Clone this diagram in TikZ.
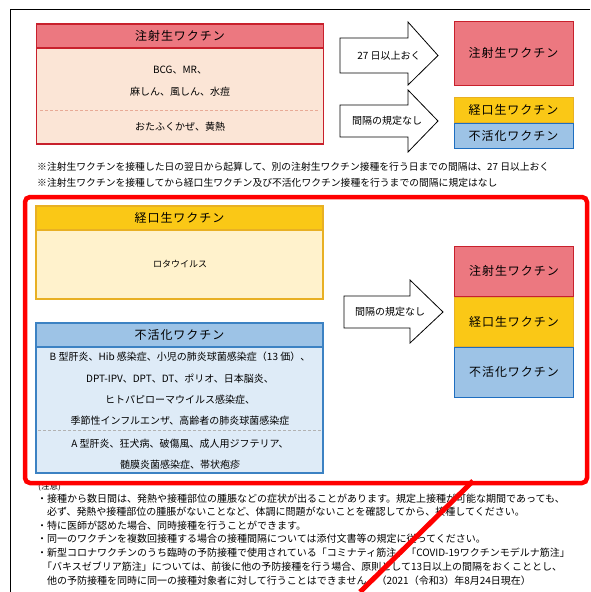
\documentclass[tikz,border=0pt]{standalone}
\usepackage{fontspec}
\setmainfont{Noto Sans CJK JP}
\newfontfamily\headfont[LetterSpace=8]{Noto Sans CJK JP}
\usetikzlibrary{positioning}
\definecolor{redhead}{RGB}{236,120,128}
\definecolor{redline}{RGB}{200,32,44}
\definecolor{redbody}{RGB}{251,229,214}
\definecolor{reddash}{RGB}{232,170,150}
\definecolor{yelhead}{RGB}{250,200,22}
\definecolor{yelline}{RGB}{232,176,36}
\definecolor{yelbody}{RGB}{255,242,204}
\definecolor{bluhead}{RGB}{157,195,230}
\definecolor{bluline}{RGB}{60,130,195}
\definecolor{bludark}{RGB}{30,110,192}
\definecolor{blubody}{RGB}{222,235,247}
\definecolor{markred}{RGB}{255,0,0}
\tikzstyle{head} = [rectangle, minimum width=287pt, minimum height=24pt, inner sep=0pt, text centered, line width=1.2pt, font=\headfont\fontsize{12}{12}\selectfont]
\tikzstyle{body} = [rectangle, minimum width=287pt, inner sep=0pt, line width=1.2pt]
\tikzstyle{item} = [inner sep=0pt, font=\fontsize{10}{10}\selectfont]
\tikzstyle{kind} = [rectangle, minimum width=119pt, inner sep=0pt, text centered, line width=1pt, font=\headfont\fontsize{12}{12}\selectfont]
\tikzstyle{blockarrow} = [draw=black, fill=white, line width=0.8pt, line join=miter]
\tikzstyle{arrowtext} = [inner sep=0pt, font=\fontsize{10}{10}\selectfont]
\tikzstyle{note} = [anchor=west, inner sep=0pt, font=\fontsize{9.8}{10}\selectfont]
\tikzstyle{splitline} = [densely dashed, line width=0.8pt]

\begin{document}
\begin{tikzpicture}[x=1pt, y=-1pt]
	\useasboundingbox (0,0) rectangle (590,592);
	\draw [line width=0.9pt] (590,9) -- (10,9) -- (10,592);
	
	% top: live injected vaccine
	\node (livebody) [body, minimum height=96pt, draw=redline, fill=redbody] at (180,96) {};
	\node (livehead) [head, draw=redline, fill=redhead] at (180,36) {注射生ワクチン};
	\draw [splitline, reddash] (40,110) -- (320,110);
	\node (live1) [item] at (180,70) {BCG、MR、};
	\node (live2) [item] at (180,92) {麻しん、風しん、水痘};
	\node (live3) [item] at (180,127) {おたふくかぜ、黄熱};
	
	\draw [blockarrow] (340,38) -- (408,38) -- (408,22) -- (438,55.5) -- (408,85) -- (408,73) -- (340,73) -- cycle;
	\node (arrow1) [arrowtext] at (389,56) {27 日以上おく};
	\draw [blockarrow] (340,105) -- (408,105) -- (408,90) -- (438,121) -- (408,152) -- (408,137) -- (340,137) -- cycle;
	\node (arrow2) [arrowtext] at (387,121) {間隔の規定なし};
	
	\node (toplive) [kind, minimum height=64pt, draw=redline, fill=redhead] at (513.5,53) {注射生ワクチン};
	\node (toporal) [kind, minimum height=25pt, draw=yelline, fill=yelhead] at (513.5,109.5) {経口生ワクチン};
	\node (topinact) [kind, minimum height=25pt, draw=bludark, fill=bluhead, below=0pt of toporal] {不活化ワクチン};
	
	\node (rule1) [note] at (37,167) {※注射生ワクチンを接種した日の翌日から起算して、別の注射生ワクチン接種を行う日までの間隔は、27 日以上おく};
	\node (rule2) [note] at (37,183) {※注射生ワクチンを接種してから経口生ワクチン及び不活化ワクチン接種を行うまでの間隔に規定はなし};
	
	% middle: oral and inactivated
	\node (oralbody) [body, minimum height=69pt, draw=yelline, fill=yelbody] at (179.5,264.5) {};
	\node (oralhead) [head, draw=yelline, fill=yelhead] at (179.5,218) {経口生ワクチン};
	\node (oral1) [item, font=\fontsize{9}{9}\selectfont] at (180,264) {ロタウイルス};
	
	\node (inactbody) [body, minimum height=126pt, draw=bluline, fill=blubody] at (179.5,410) {};
	\node (inacthead) [head, draw=bluline, fill=bluhead] at (179.5,335) {不活化ワクチン};
	\draw [splitline, gray!60] (38,430) -- (321,430);
	\node (inact1) [item] at (180,357) {B 型肝炎、Hib 感染症、小児の肺炎球菌感染症（13 価）、};
	\node (inact2) [item] at (180,379) {DPT-IPV、DPT、DT、ポリオ、日本脳炎、};
	\node (inact3) [item] at (180,400) {ヒトパピローマウイルス感染症、};
	\node (inact4) [item] at (180,421) {季節性インフルエンザ、高齢者の肺炎球菌感染症};
	\node (inact5) [item] at (180,444) {A 型肝炎、狂犬病、破傷風、成人用ジフテリア、};
	\node (inact6) [item] at (180,465) {髄膜炎菌感染症、帯状疱疹};
	
	\draw [blockarrow] (344,296) -- (410,296) -- (410,280) -- (443,312) -- (410,343) -- (410,328) -- (344,328) -- cycle;
	\node (arrow3) [arrowtext] at (390,312) {間隔の規定なし};
	
	\node (botlive) [kind, minimum height=50pt, draw=redline, fill=redhead] at (514,271) {注射生ワクチン};
	\node (botoral) [kind, minimum height=49pt, draw=yelline, fill=yelhead, below=0pt of botlive] {経口生ワクチン};
	\node (botinact) [kind, minimum height=50pt, draw=bludark, fill=bluhead, below=0pt of botoral, line width=1.5pt] {不活化ワクチン};
	
	% notes
	\node (note0) [note, font=\fontsize{8.5}{9}\selectfont] at (38,487) {(注意)};
	\node (note1) [note, font=\fontsize{10}{10}\selectfont] at (37,498.5) {・接種から数日間は、発熱や接種部位の腫脹などの症状が出ることがあります。規定上接種が可能な期間であっても、};
	\node (note2) [note, font=\fontsize{10}{10}\selectfont] at (47,512) {必ず、発熱や接種部位の腫脹がないことなど、体調に問題がないことを確認してから、接種してください。};
	\node (note3) [note, font=\fontsize{10}{10}\selectfont] at (37,525.5) {・特に医師が認めた場合、同時接種を行うことができます。};
	\node (note4) [note, font=\fontsize{10}{10}\selectfont] at (37,539) {・同一のワクチンを複数回接種する場合の接種間隔については添付文書等の規定に従ってください。};
	\node (note5) [note, font=\fontsize{10}{10}\selectfont] at (37,553) {・新型コロナワクチンのうち臨時の予防接種で使用されている「コミナティ筋注」「COVID-19ワクチンモデルナ筋注」};
	\node (note6) [note, font=\fontsize{10}{10}\selectfont] at (42,567) {「バキスゼブリア筋注」については、前後に他の予防接種を行う場合、原則として13日以上の間隔をおくこととし、};
	\node (note7) [note, font=\fontsize{10}{10}\selectfont] at (47,581) {他の予防接種を同時に同一の接種対象者に対して行うことはできません。（2021（令和3）年8月24日現在）};
	
	% red marks
	\draw [markred, line width=4.5pt, rounded corners=5pt] (25,197) rectangle (587,483);
	\draw [markred, line width=5pt] (360,592) -- (473,481);
\end{tikzpicture}
\end{document}
